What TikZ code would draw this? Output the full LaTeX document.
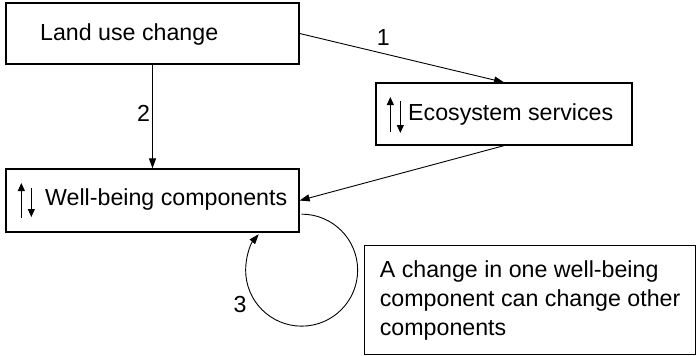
\documentclass[tikz,border=0pt]{standalone}
\usepackage{fontspec}
\setmainfont{Liberation Sans}
\usetikzlibrary{arrows.meta}
\begin{document}
\begin{tikzpicture}[x=1pt,y=-1pt,
  box/.style={draw, line width=1.3pt, inner sep=0pt},
  txt/.style={font=\fontsize{23.2}{29}\selectfont, inner sep=0pt},
  conn/.style={line width=0.9pt, -{Triangle[length=10pt,width=7pt]}},
  updown/.style={line width=0.8pt, -{Triangle[length=8pt,width=7pt]}}]
\useasboundingbox (0,0) rectangle (697,356);
% boxes
\node[box, minimum width=293pt, minimum height=61pt] (lu) at (152.5,33.5) {};
\node[txt, anchor=west] (lut) at (40,35) {Land use change};
\node[box, minimum width=256pt, minimum height=62pt] (es) at (504,114) {};
\node[txt, anchor=west] (est) at (408,115) {Ecosystem services};
\node[box, minimum width=293pt, minimum height=63pt] (wb) at (152.5,200.5) {};
\node[txt, anchor=west] (wbt) at (45,200) {Well-being components};
\node[box, font=\fontsize{23.2}{29}\selectfont, anchor=north west,
  minimum width=331pt, minimum height=109pt, align=left] (note) at (364,245)
  {A change in one well-being\\component can change other\\components};
% up/down arrows
\draw[updown] ([xshift=15pt,yshift=-18pt]es.west) -- ([xshift=15pt,yshift=17pt]es.west);
\draw[updown] ([xshift=25pt,yshift=13pt]es.west) -- ([xshift=25pt,yshift=-19pt]es.west);
\draw[updown] ([xshift=16pt,yshift=-17.5pt]wb.west) -- ([xshift=16pt,yshift=17.5pt]wb.west);
\draw[updown] ([xshift=26pt,yshift=12.5pt]wb.west) -- ([xshift=26pt,yshift=-16.5pt]wb.west);
% connectors
\draw[conn] (lu.east) -- node[txt, pos=0.41, above=8pt] (l1) {1} (es.north);
\draw[conn] (lu.south) -- node[txt, pos=0.47, left=2pt] (l2) {2} (wb.north);
\draw[conn] (es.south) -- (wb.east);
\draw[conn] ([xshift=2pt,yshift=18.5pt]wb.south east) arc[start angle=90, end angle=-220, radius=56pt];
\node[txt] (l3) at (240,305) {3};
\end{tikzpicture}
\end{document}
